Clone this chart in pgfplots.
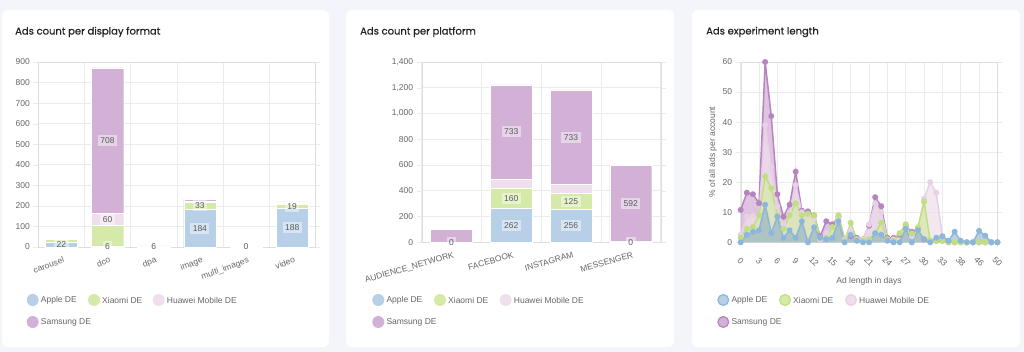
\documentclass[border=0pt]{standalone}
\usepackage{fontspec}
\setmainfont{Liberation Sans}
\newfontfamily\titlefont{Poppins}[FakeBold=0.5]
\usepackage{pgfplots}
\pgfplotsset{compat=1.18}
\usepackage{pgfplotstable}

\definecolor{bg}{HTML}{F4F5FA}
\definecolor{gridc}{HTML}{EBEBEB}
\definecolor{axisc}{HTML}{DDDDDD}
\definecolor{tickc}{HTML}{666666}
\definecolor{titlec}{HTML}{222222}
\definecolor{applebar}{HTML}{B7D0E8}
\definecolor{xiaomibar}{HTML}{D5EAA8}
\definecolor{huaweibar}{HTML}{EFDFEC}
\definecolor{samsungbar}{HTML}{D3B1D6}
\definecolor{appleline}{HTML}{8DB6DD}
\definecolor{xiaomiline}{HTML}{BFE07E}
\definecolor{huaweiline}{HTML}{E8D0E7}
\definecolor{samsungline}{HTML}{B983C2}

\pgfplotstableread{
i a x h s
0 0 1.5 2.5 10.8
1 2.5 4.5 8.5 16.5
2 3.5 5 9 16
3 4 9 9 13
4 12.5 22 39 60
5 3 18 25 42
6 8.5 9 12 16
7 1.5 4.5 6 8.5
8 4 9 10 12.5
9 1.5 13 19 23.5
10 7 9 10 10.5
11 0 9.5 9 10.3
12 5 9 8 9
13 1.5 1.5 1 2
14 1 1.5 3 7
15 1.5 5 5 6
16 7 9 8 8.5
17 0 0.5 1 1
18 2.5 6.5 4 2
19 0.5 1 1 1.5
20 0 0.5 1 1
21 0 1 6 5.5
22 3 3 13 15
23 2.5 6.5 10 12
24 0.5 1 1 1.5
25 0 0.5 1 1.5
26 0 3 3 2.5
27 4.5 6 5 5.5
28 0 3 2 3.5
29 4 5 4 4.5
30 1 13.5 14.5 1
31 0 0.5 20 0.5
32 1.5 0.5 16.5 0.5
33 2 0.5 2 0.5
34 0.5 0 0 0
35 3.5 0 0 0
36 0.5 0 0 0
37 0 0 0 0
38 0 0 0 0
39 3.8 0 0 0
40 2.2 0 0 0
41 0 0 0 0
42 0 0 0 0
}\lenData

\tikzset{
  lbl/.style={fill=white, fill opacity=0.45, text opacity=1, text=black!65,
    font=\fontsize{8.5}{10}\selectfont, inner sep=2.5pt},
}
\pgfplotsset{
  cardaxis/.style={
    scale only axis, anchor=south west, clip=false,
    axis line style={draw=axisc},
    ymajorgrids, grid style={draw=gridc, line width=0.6pt},
    tick label style={font=\fontsize{8.5}{10}\selectfont, text=tickc},
    /pgf/number format/assume math mode=true,
    tick align=outside, major tick length=5pt,
    ytick style={draw=gridc}, xtick style={draw=none},
    ymin=0,
  },
  baraxis/.style={
    cardaxis, ybar stacked, bar width=0.7, enlarge x limits=false,
    xminorgrids, minor grid style={draw=gridc, line width=0.6pt},
    xticklabel style={anchor=north east, inner sep=1pt, yshift=-3pt, xshift=2pt},
  },
  overlay/.style={scale only axis, anchor=south west, clip=false, hide axis, ymin=0},
}

\newcommand{\barlegend}[3]{% x of Apple circle, Xiaomi, Huawei
  \fill[applebar] (#1,52pt) circle (6pt);
  \node[anchor=west, text=tickc, font=\fontsize{8.5}{10}\selectfont, inner sep=0pt] at ([xshift=8pt]#1,52pt) {Apple DE};
  \fill[xiaomibar] (#2,52pt) circle (6pt);
  \node[anchor=west, text=tickc, font=\fontsize{8.5}{10}\selectfont, inner sep=0pt] at ([xshift=8pt]#2,52pt) {Xiaomi DE};
  \fill[huaweibar] (#3,52pt) circle (6pt);
  \node[anchor=west, text=tickc, font=\fontsize{8.5}{10}\selectfont, inner sep=0pt] at ([xshift=8pt]#3,52pt) {Huawei Mobile DE};
  \fill[samsungbar] (#1,30pt) circle (6pt);
  \node[anchor=west, text=tickc, font=\fontsize{8.5}{10}\selectfont, inner sep=0pt] at ([xshift=8pt]#1,30pt) {Samsung DE};
}

\begin{document}
\begin{tikzpicture}
\useasboundingbox (0pt,0pt) rectangle (1024pt,352pt);
\fill[bg] (0pt,0pt) rectangle (1024pt,352pt);
\fill[white, rounded corners=6pt] (2pt,5pt) rectangle (329pt,342pt);
\fill[white, rounded corners=6pt] (346pt,5pt) rectangle (674pt,342pt);
\fill[white, rounded corners=6pt] (692pt,5pt) rectangle (1020pt,342pt);

\node[anchor=west, font=\titlefont\fontsize{10}{12}\selectfont, text=titlec, inner sep=0pt] at (15pt,320pt) {Ads count per display format};
\node[anchor=west, font=\titlefont\fontsize{10}{12}\selectfont, text=titlec, inner sep=0pt] at (360pt,320pt) {Ads count per platform};
\node[anchor=west, font=\titlefont\fontsize{10}{12}\selectfont, text=titlec, inner sep=0pt] at (706pt,320pt) {Ads experiment length};

% ---------- Panel 1
\begin{axis}[baraxis, at={(38.3pt,105pt)}, width=277pt, height=185pt,
  xmin=-0.5, xmax=5.5, ymax=900, ytick={0,100,...,900},
  xtick={0,...,5}, xticklabels={carousel,dco,dpa,image,multi\_images,video},
  xticklabel style={rotate=20},
  minor xtick={-0.5,0.5,...,5.5}]
\addplot[fill=applebar, draw=white, line width=0.4pt] coordinates {(0,22)(1,6)(2,6)(3,184)(4,0)(5,188)};
\addplot[fill=xiaomibar, draw=white, line width=0.4pt] coordinates {(0,15)(1,98)(2,0)(3,33)(4,2)(5,19)};
\addplot[fill=huaweibar, draw=white, line width=0.4pt] coordinates {(0,0)(1,60)(2,0)(3,6)(4,0)(5,4)};
\addplot[fill=samsungbar, draw=white, line width=0.4pt] coordinates {(0,1)(1,708)(2,2)(3,9)(4,1)(5,8)};
\end{axis}
\begin{axis}[overlay, at={(38.3pt,105pt)}, width=277pt, height=185pt,
  xmin=-0.5, xmax=5.5, ymax=900]
\node[lbl] at (axis cs:0,11) {22};
\node[lbl] at (axis cs:1,3) {6};
\node[lbl] at (axis cs:1,134) {60};
\node[lbl] at (axis cs:1,518) {708};
\node[lbl] at (axis cs:2,3) {6};
\node[lbl] at (axis cs:3,92) {184};
\node[lbl] at (axis cs:3,200) {33};
\node[lbl] at (axis cs:4,0) {0};
\node[lbl] at (axis cs:5,94) {188};
\node[lbl] at (axis cs:5,197) {19};
\end{axis}

% ---------- Panel 2
\begin{axis}[baraxis, at={(421.7pt,109.7pt)}, width=239pt, height=180.3pt,
  xmin=-0.5, xmax=3.5, ymax=1400, ytick={0,200,...,1400},
  /pgf/number format/1000 sep={,},
  xtick={0,...,3}, xticklabels={AUDIENCE\_NETWORK,FACEBOOK,INSTAGRAM,MESSENGER},
  xticklabel style={rotate=16},
  minor xtick={-0.5,0.5,...,3.5}]
\addplot[fill=applebar, draw=white, line width=0.4pt] coordinates {(0,0)(1,262)(2,256)(3,0)};
\addplot[fill=xiaomibar, draw=white, line width=0.4pt] coordinates {(0,4)(1,160)(2,125)(3,4)};
\addplot[fill=huaweibar, draw=white, line width=0.4pt] coordinates {(0,0)(1,68)(2,70)(3,4)};
\addplot[fill=samsungbar, draw=white, line width=0.4pt] coordinates {(0,96)(1,733)(2,733)(3,592)};
\end{axis}
\begin{axis}[overlay, at={(421.7pt,109.7pt)}, width=239pt, height=180.3pt,
  xmin=-0.5, xmax=3.5, ymax=1400]
\node[lbl] at (axis cs:0,0) {0};
\node[lbl] at (axis cs:1,131) {262};
\node[lbl] at (axis cs:1,342) {160};
\node[lbl] at (axis cs:1,857) {733};
\node[lbl] at (axis cs:2,128) {256};
\node[lbl] at (axis cs:2,318) {125};
\node[lbl] at (axis cs:2,817) {733};
\node[lbl] at (axis cs:3,0) {0};
\node[lbl] at (axis cs:3,304) {592};
\end{axis}

% ---------- Panel 3
\begin{axis}[cardaxis, at={(740.7pt,109.7pt)}, width=256.7pt, height=180.3pt,
  xmin=0, xmax=42, ymax=60, ytick={0,10,...,60},
  xmajorgrids,
  xtick={0,3,...,42}, xticklabels={0,3,6,9,12,15,18,21,24,27,30,33,38,46,50},
  xticklabel style={rotate=-45, anchor=center, xshift=10pt, yshift=-10pt},
  xlabel={Ad length in days}, ylabel={\% of all ads per account},
  label style={font=\fontsize{8.5}{10}\selectfont, text=tickc},
  xlabel style={yshift=-2pt}, ylabel style={yshift=-1pt}]
\addplot[draw=none, fill=samsungbar, fill opacity=0.75] table[x=i,y=s] {\lenData} \closedcycle;
\addplot[samsungline, line width=1.5pt, mark=*, mark size=2.2pt, mark options={fill=samsungline, draw=samsungline}] table[x=i,y=s] {\lenData};
\addplot[draw=none, fill=huaweibar, fill opacity=0.75] table[x=i,y=h] {\lenData} \closedcycle;
\addplot[huaweiline, line width=1.5pt, mark=*, mark size=2.2pt, mark options={fill=huaweiline, draw=huaweiline}] table[x=i,y=h] {\lenData};
\addplot[draw=none, fill=xiaomibar, fill opacity=0.7] table[x=i,y=x] {\lenData} \closedcycle;
\addplot[xiaomiline, line width=1.5pt, mark=*, mark size=2.2pt, mark options={fill=xiaomiline, draw=xiaomiline}] table[x=i,y=x] {\lenData};
\addplot[draw=none, fill=appleline!80!gray, fill opacity=0.55] table[x=i,y=a] {\lenData} \closedcycle;
\addplot[appleline, line width=1.5pt, mark=*, mark size=2.2pt, mark options={fill=appleline, draw=appleline}] table[x=i,y=a] {\lenData};
\end{axis}

% ---------- Legends
\barlegend{32.7pt}{94pt}{158.7pt}
\barlegend{378.3pt}{440pt}{505.7pt}

\begin{scope}[every node/.style={anchor=west, text=tickc, font=\fontsize{8.5}{10}\selectfont, inner sep=0pt}]
\filldraw[fill=applebar, draw=appleline, line width=1.2pt] (723.3pt,52pt) circle (5.4pt);
\node at (731.3pt,52pt) {Apple DE};
\filldraw[fill=xiaomibar, draw=xiaomiline, line width=1.2pt] (785pt,52pt) circle (5.4pt);
\node at (793pt,52pt) {Xiaomi DE};
\filldraw[fill=huaweibar, draw=huaweiline, line width=1.2pt] (851pt,52pt) circle (5.4pt);
\node at (859pt,52pt) {Huawei Mobile DE};
\filldraw[fill=samsungbar, draw=samsungline, line width=1.2pt] (723.3pt,30pt) circle (5.4pt);
\node at (731.3pt,30pt) {Samsung DE};
\end{scope}
\end{tikzpicture}
\end{document}
